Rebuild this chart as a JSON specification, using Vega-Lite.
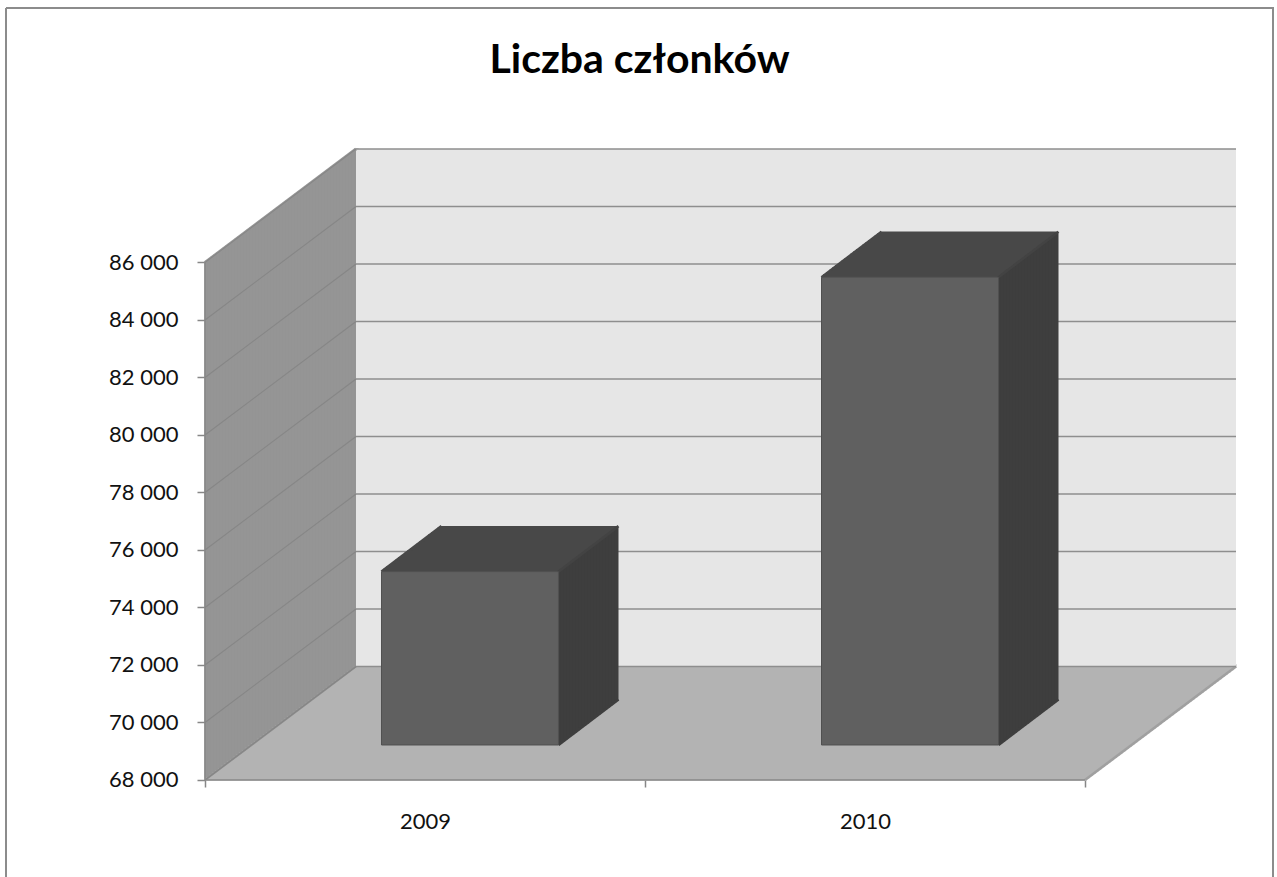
{
"$schema": "https://vega.github.io/schema/vega-lite/v6.json",
"width": 1267, "height": 869,
"autosize": {"type": "none"},
"padding": {"left": 6, "top": 8, "right": 4, "bottom": 0},
"background": "#ffffff",
"title": {"text": "Liczba członków", "font": "Lato", "fontSize": 41, "fontWeight": "bold", "color": "#000000", "anchor": "middle", "baseline": "alphabetic", "offset": -106},
"config": {"view": {"stroke": "#8c8c8c", "strokeWidth": 2, "strokeDash": [2136, 1267, 869, 0]}},
"datasets": {
  "one": [{}],
  "bars": [{"year": 2009, "value": 74030}, {"year": 2010, "value": 84270}],
  "ticks": [{"v": 68000}, {"v": 70000}, {"v": 72000}, {"v": 74000}, {"v": 76000}, {"v": 78000}, {"v": 80000}, {"v": 82000}, {"v": 84000}, {"v": 86000}]
},
"layer": [
  {"data": {"name": "one"},
   "encoding": {"x": {"datum": 2008.5, "type": "quantitative"}, "y": {"datum": 68000, "type": "quantitative"}, "y2": {"datum": 86000}, "color": {"value": "#959595"}, "strokeWidth": {"value": 4.2}},
   "layer": [
    {"mark": {"type": "rule", "xOffset": 1.5, "yOffset": -1.13, "y2Offset": -1.13}},
    {"mark": {"type": "rule", "xOffset": 4.5, "yOffset": -3.38, "y2Offset": -3.38}},
    {"mark": {"type": "rule", "xOffset": 7.5, "yOffset": -5.64, "y2Offset": -5.64}},
    {"mark": {"type": "rule", "xOffset": 10.5, "yOffset": -7.89, "y2Offset": -7.89}},
    {"mark": {"type": "rule", "xOffset": 13.5, "yOffset": -10.15, "y2Offset": -10.15}},
    {"mark": {"type": "rule", "xOffset": 16.5, "yOffset": -12.4, "y2Offset": -12.4}},
    {"mark": {"type": "rule", "xOffset": 19.5, "yOffset": -14.66, "y2Offset": -14.66}},
    {"mark": {"type": "rule", "xOffset": 22.5, "yOffset": -16.91, "y2Offset": -16.91}},
    {"mark": {"type": "rule", "xOffset": 25.5, "yOffset": -19.17, "y2Offset": -19.17}},
    {"mark": {"type": "rule", "xOffset": 28.5, "yOffset": -21.42, "y2Offset": -21.42}},
    {"mark": {"type": "rule", "xOffset": 31.5, "yOffset": -23.68, "y2Offset": -23.68}},
    {"mark": {"type": "rule", "xOffset": 34.5, "yOffset": -25.93, "y2Offset": -25.93}},
    {"mark": {"type": "rule", "xOffset": 37.5, "yOffset": -28.19, "y2Offset": -28.19}},
    {"mark": {"type": "rule", "xOffset": 40.5, "yOffset": -30.44, "y2Offset": -30.44}},
    {"mark": {"type": "rule", "xOffset": 43.5, "yOffset": -32.7, "y2Offset": -32.7}},
    {"mark": {"type": "rule", "xOffset": 46.5, "yOffset": -34.95, "y2Offset": -34.95}},
    {"mark": {"type": "rule", "xOffset": 49.5, "yOffset": -37.21, "y2Offset": -37.21}},
    {"mark": {"type": "rule", "xOffset": 52.5, "yOffset": -39.46, "y2Offset": -39.46}},
    {"mark": {"type": "rule", "xOffset": 55.5, "yOffset": -41.72, "y2Offset": -41.72}},
    {"mark": {"type": "rule", "xOffset": 58.5, "yOffset": -43.97, "y2Offset": -43.97}},
    {"mark": {"type": "rule", "xOffset": 61.5, "yOffset": -46.23, "y2Offset": -46.23}},
    {"mark": {"type": "rule", "xOffset": 64.5, "yOffset": -48.48, "y2Offset": -48.48}},
    {"mark": {"type": "rule", "xOffset": 67.5, "yOffset": -50.74, "y2Offset": -50.74}},
    {"mark": {"type": "rule", "xOffset": 70.5, "yOffset": -52.99, "y2Offset": -52.99}},
    {"mark": {"type": "rule", "xOffset": 73.5, "yOffset": -55.25, "y2Offset": -55.25}},
    {"mark": {"type": "rule", "xOffset": 76.5, "yOffset": -57.5, "y2Offset": -57.5}},
    {"mark": {"type": "rule", "xOffset": 79.5, "yOffset": -59.76, "y2Offset": -59.76}},
    {"mark": {"type": "rule", "xOffset": 82.5, "yOffset": -62.01, "y2Offset": -62.01}},
    {"mark": {"type": "rule", "xOffset": 85.5, "yOffset": -64.27, "y2Offset": -64.27}},
    {"mark": {"type": "rule", "xOffset": 88.5, "yOffset": -66.52, "y2Offset": -66.52}},
    {"mark": {"type": "rule", "xOffset": 91.5, "yOffset": -68.78, "y2Offset": -68.78}},
    {"mark": {"type": "rule", "xOffset": 94.5, "yOffset": -71.03, "y2Offset": -71.03}},
    {"mark": {"type": "rule", "xOffset": 97.5, "yOffset": -73.29, "y2Offset": -73.29}},
    {"mark": {"type": "rule", "xOffset": 100.5, "yOffset": -75.54, "y2Offset": -75.54}},
    {"mark": {"type": "rule", "xOffset": 103.5, "yOffset": -77.8, "y2Offset": -77.8}},
    {"mark": {"type": "rule", "xOffset": 106.5, "yOffset": -80.05, "y2Offset": -80.05}},
    {"mark": {"type": "rule", "xOffset": 109.5, "yOffset": -82.31, "y2Offset": -82.31}},
    {"mark": {"type": "rule", "xOffset": 112.5, "yOffset": -84.56, "y2Offset": -84.56}},
    {"mark": {"type": "rule", "xOffset": 115.5, "yOffset": -86.82, "y2Offset": -86.82}},
    {"mark": {"type": "rule", "xOffset": 118.5, "yOffset": -89.07, "y2Offset": -89.07}},
    {"mark": {"type": "rule", "xOffset": 121.5, "yOffset": -91.33, "y2Offset": -91.33}},
    {"mark": {"type": "rule", "xOffset": 124.5, "yOffset": -93.58, "y2Offset": -93.58}},
    {"mark": {"type": "rule", "xOffset": 127.5, "yOffset": -95.84, "y2Offset": -95.84}},
    {"mark": {"type": "rule", "xOffset": 130.5, "yOffset": -98.09, "y2Offset": -98.09}},
    {"mark": {"type": "rule", "xOffset": 133.5, "yOffset": -100.35, "y2Offset": -100.35}},
    {"mark": {"type": "rule", "xOffset": 136.5, "yOffset": -102.6, "y2Offset": -102.6}},
    {"mark": {"type": "rule", "xOffset": 139.5, "yOffset": -104.86, "y2Offset": -104.86}},
    {"mark": {"type": "rule", "xOffset": 142.5, "yOffset": -107.11, "y2Offset": -107.11}},
    {"mark": {"type": "rule", "xOffset": 145.5, "yOffset": -109.37, "y2Offset": -109.37}},
    {"mark": {"type": "rule", "xOffset": 148.5, "yOffset": -111.62, "y2Offset": -111.62}},
    {"mark": {"type": "rule", "xOffset": 151.5, "yOffset": -113.88, "y2Offset": -113.88}}
   ]},
  {"data": {"name": "one"},
   "encoding": {"x": {"datum": 2008.5, "type": "quantitative"}, "x2": {"datum": 2010.5}, "y": {"datum": 68000, "type": "quantitative"}, "color": {"value": "#b3b3b3"}, "strokeWidth": {"value": 3.5}},
   "layer": [
    {"mark": {"type": "rule", "xOffset": 1.5, "x2Offset": 1.5, "yOffset": -1.13}},
    {"mark": {"type": "rule", "xOffset": 4.5, "x2Offset": 4.5, "yOffset": -3.38}},
    {"mark": {"type": "rule", "xOffset": 7.5, "x2Offset": 7.5, "yOffset": -5.64}},
    {"mark": {"type": "rule", "xOffset": 10.5, "x2Offset": 10.5, "yOffset": -7.89}},
    {"mark": {"type": "rule", "xOffset": 13.5, "x2Offset": 13.5, "yOffset": -10.15}},
    {"mark": {"type": "rule", "xOffset": 16.5, "x2Offset": 16.5, "yOffset": -12.4}},
    {"mark": {"type": "rule", "xOffset": 19.5, "x2Offset": 19.5, "yOffset": -14.66}},
    {"mark": {"type": "rule", "xOffset": 22.5, "x2Offset": 22.5, "yOffset": -16.91}},
    {"mark": {"type": "rule", "xOffset": 25.5, "x2Offset": 25.5, "yOffset": -19.17}},
    {"mark": {"type": "rule", "xOffset": 28.5, "x2Offset": 28.5, "yOffset": -21.42}},
    {"mark": {"type": "rule", "xOffset": 31.5, "x2Offset": 31.5, "yOffset": -23.68}},
    {"mark": {"type": "rule", "xOffset": 34.5, "x2Offset": 34.5, "yOffset": -25.93}},
    {"mark": {"type": "rule", "xOffset": 37.5, "x2Offset": 37.5, "yOffset": -28.19}},
    {"mark": {"type": "rule", "xOffset": 40.5, "x2Offset": 40.5, "yOffset": -30.44}},
    {"mark": {"type": "rule", "xOffset": 43.5, "x2Offset": 43.5, "yOffset": -32.7}},
    {"mark": {"type": "rule", "xOffset": 46.5, "x2Offset": 46.5, "yOffset": -34.95}},
    {"mark": {"type": "rule", "xOffset": 49.5, "x2Offset": 49.5, "yOffset": -37.21}},
    {"mark": {"type": "rule", "xOffset": 52.5, "x2Offset": 52.5, "yOffset": -39.46}},
    {"mark": {"type": "rule", "xOffset": 55.5, "x2Offset": 55.5, "yOffset": -41.72}},
    {"mark": {"type": "rule", "xOffset": 58.5, "x2Offset": 58.5, "yOffset": -43.97}},
    {"mark": {"type": "rule", "xOffset": 61.5, "x2Offset": 61.5, "yOffset": -46.23}},
    {"mark": {"type": "rule", "xOffset": 64.5, "x2Offset": 64.5, "yOffset": -48.48}},
    {"mark": {"type": "rule", "xOffset": 67.5, "x2Offset": 67.5, "yOffset": -50.74}},
    {"mark": {"type": "rule", "xOffset": 70.5, "x2Offset": 70.5, "yOffset": -52.99}},
    {"mark": {"type": "rule", "xOffset": 73.5, "x2Offset": 73.5, "yOffset": -55.25}},
    {"mark": {"type": "rule", "xOffset": 76.5, "x2Offset": 76.5, "yOffset": -57.5}},
    {"mark": {"type": "rule", "xOffset": 79.5, "x2Offset": 79.5, "yOffset": -59.76}},
    {"mark": {"type": "rule", "xOffset": 82.5, "x2Offset": 82.5, "yOffset": -62.01}},
    {"mark": {"type": "rule", "xOffset": 85.5, "x2Offset": 85.5, "yOffset": -64.27}},
    {"mark": {"type": "rule", "xOffset": 88.5, "x2Offset": 88.5, "yOffset": -66.52}},
    {"mark": {"type": "rule", "xOffset": 91.5, "x2Offset": 91.5, "yOffset": -68.78}},
    {"mark": {"type": "rule", "xOffset": 94.5, "x2Offset": 94.5, "yOffset": -71.03}},
    {"mark": {"type": "rule", "xOffset": 97.5, "x2Offset": 97.5, "yOffset": -73.29}},
    {"mark": {"type": "rule", "xOffset": 100.5, "x2Offset": 100.5, "yOffset": -75.54}},
    {"mark": {"type": "rule", "xOffset": 103.5, "x2Offset": 103.5, "yOffset": -77.8}},
    {"mark": {"type": "rule", "xOffset": 106.5, "x2Offset": 106.5, "yOffset": -80.05}},
    {"mark": {"type": "rule", "xOffset": 109.5, "x2Offset": 109.5, "yOffset": -82.31}},
    {"mark": {"type": "rule", "xOffset": 112.5, "x2Offset": 112.5, "yOffset": -84.56}},
    {"mark": {"type": "rule", "xOffset": 115.5, "x2Offset": 115.5, "yOffset": -86.82}},
    {"mark": {"type": "rule", "xOffset": 118.5, "x2Offset": 118.5, "yOffset": -89.07}},
    {"mark": {"type": "rule", "xOffset": 121.5, "x2Offset": 121.5, "yOffset": -91.33}},
    {"mark": {"type": "rule", "xOffset": 124.5, "x2Offset": 124.5, "yOffset": -93.58}},
    {"mark": {"type": "rule", "xOffset": 127.5, "x2Offset": 127.5, "yOffset": -95.84}},
    {"mark": {"type": "rule", "xOffset": 130.5, "x2Offset": 130.5, "yOffset": -98.09}},
    {"mark": {"type": "rule", "xOffset": 133.5, "x2Offset": 133.5, "yOffset": -100.35}},
    {"mark": {"type": "rule", "xOffset": 136.5, "x2Offset": 136.5, "yOffset": -102.6}},
    {"mark": {"type": "rule", "xOffset": 139.5, "x2Offset": 139.5, "yOffset": -104.86}},
    {"mark": {"type": "rule", "xOffset": 142.5, "x2Offset": 142.5, "yOffset": -107.11}},
    {"mark": {"type": "rule", "xOffset": 145.5, "x2Offset": 145.5, "yOffset": -109.37}},
    {"mark": {"type": "rule", "xOffset": 148.5, "x2Offset": 148.5, "yOffset": -111.62}},
    {"mark": {"type": "rule", "xOffset": 151.5, "x2Offset": 151.5, "yOffset": -113.88}}
   ]},
  {"data": {"name": "one"},
   "mark": {"type": "rect", "xOffset": 151, "x2Offset": 151, "yOffset": -113.5, "y2Offset": -113.5, "color": "#e6e6e6"},
   "encoding": {"x": {"datum": 2008.5, "type": "quantitative"}, "x2": {"datum": 2010.5}, "y": {"datum": 68000, "type": "quantitative"}, "y2": {"datum": 86000}}},
  {"data": {"name": "one"},
   "mark": {"type": "rule", "x2Offset": 151, "y2Offset": -113.5, "color": "#959595", "strokeWidth": 3},
   "encoding": {"x": {"datum": 2008.5, "type": "quantitative"}, "x2": {"datum": 2008.5}, "y": {"datum": 86000, "type": "quantitative"}, "y2": {"datum": 86000}}},
  {"data": {"name": "one"},
   "mark": {"type": "rule", "x2Offset": 151, "y2Offset": -113.5, "color": "#a0a0a0", "strokeWidth": 2.6},
   "encoding": {"x": {"datum": 2010.5, "type": "quantitative"}, "x2": {"datum": 2010.5}, "y": {"datum": 68000, "type": "quantitative"}, "y2": {"datum": 68000}}},
  {"data": {"name": "one"},
   "mark": {"type": "rule", "x2Offset": 151, "y2Offset": -113.5, "color": "#8f8f8f", "strokeWidth": 2},
   "encoding": {"x": {"datum": 2008.5, "type": "quantitative"}, "x2": {"datum": 2008.5}, "y": {"datum": 68000, "type": "quantitative"}, "y2": {"datum": 68000}}},
  {"data": {"name": "ticks"},
   "mark": {"type": "rule", "x2Offset": 151, "y2Offset": -113.5, "color": "#868686", "strokeWidth": 1.1},
   "encoding": {"x": {"datum": 2008.5, "type": "quantitative"}, "x2": {"datum": 2008.5}, "y": {"field": "v", "type": "quantitative"}, "y2": {"field": "v"}}},
  {"data": {"name": "ticks"},
   "mark": {"type": "rule", "xOffset": 151, "x2Offset": 151, "yOffset": -113.5, "color": "#8e8e8e", "strokeWidth": 1.5},
   "encoding": {"x": {"datum": 2008.5, "type": "quantitative"}, "x2": {"datum": 2010.5}, "y": {"field": "v", "type": "quantitative"}}},
  {"data": {"name": "bars"},
   "encoding": {"x": {"field": "year", "type": "quantitative"}, "x2": {"field": "year"}, "y": {"field": "value", "type": "quantitative"}, "color": {"value": "#484848"}, "strokeWidth": {"value": 3.5}},
   "layer": [
    {"mark": {"type": "rule", "xOffset": -42, "x2Offset": 135, "yOffset": -36.14}},
    {"mark": {"type": "rule", "xOffset": -39, "x2Offset": 138, "yOffset": -38.41}},
    {"mark": {"type": "rule", "xOffset": -36, "x2Offset": 141, "yOffset": -40.69}},
    {"mark": {"type": "rule", "xOffset": -33, "x2Offset": 144, "yOffset": -42.96}},
    {"mark": {"type": "rule", "xOffset": -30, "x2Offset": 147, "yOffset": -45.24}},
    {"mark": {"type": "rule", "xOffset": -27, "x2Offset": 150, "yOffset": -47.51}},
    {"mark": {"type": "rule", "xOffset": -24, "x2Offset": 153, "yOffset": -49.79}},
    {"mark": {"type": "rule", "xOffset": -21, "x2Offset": 156, "yOffset": -52.06}},
    {"mark": {"type": "rule", "xOffset": -18, "x2Offset": 159, "yOffset": -54.34}},
    {"mark": {"type": "rule", "xOffset": -15, "x2Offset": 162, "yOffset": -56.61}},
    {"mark": {"type": "rule", "xOffset": -12, "x2Offset": 165, "yOffset": -58.89}},
    {"mark": {"type": "rule", "xOffset": -9, "x2Offset": 168, "yOffset": -61.16}},
    {"mark": {"type": "rule", "xOffset": -6, "x2Offset": 171, "yOffset": -63.44}},
    {"mark": {"type": "rule", "xOffset": -3, "x2Offset": 174, "yOffset": -65.71}},
    {"mark": {"type": "rule", "xOffset": 0, "x2Offset": 177, "yOffset": -67.99}},
    {"mark": {"type": "rule", "xOffset": 3, "x2Offset": 180, "yOffset": -70.26}},
    {"mark": {"type": "rule", "xOffset": 6, "x2Offset": 183, "yOffset": -72.54}},
    {"mark": {"type": "rule", "xOffset": 9, "x2Offset": 186, "yOffset": -74.81}},
    {"mark": {"type": "rule", "xOffset": 12, "x2Offset": 189, "yOffset": -77.09}},
    {"mark": {"type": "rule", "xOffset": 15, "x2Offset": 192, "yOffset": -78.9}}
   ]},
  {"data": {"name": "bars"},
   "encoding": {"x": {"field": "year", "type": "quantitative"}, "y": {"field": "value", "type": "quantitative"}, "y2": {"datum": 68000}, "color": {"value": "#3e3e3e"}, "strokeWidth": {"value": 4.2}},
   "layer": [
    {"mark": {"type": "rule", "xOffset": 135, "yOffset": -36.14, "y2Offset": -36.14}},
    {"mark": {"type": "rule", "xOffset": 138, "yOffset": -38.41, "y2Offset": -38.41}},
    {"mark": {"type": "rule", "xOffset": 141, "yOffset": -40.69, "y2Offset": -40.69}},
    {"mark": {"type": "rule", "xOffset": 144, "yOffset": -42.96, "y2Offset": -42.96}},
    {"mark": {"type": "rule", "xOffset": 147, "yOffset": -45.24, "y2Offset": -45.24}},
    {"mark": {"type": "rule", "xOffset": 150, "yOffset": -47.51, "y2Offset": -47.51}},
    {"mark": {"type": "rule", "xOffset": 153, "yOffset": -49.79, "y2Offset": -49.79}},
    {"mark": {"type": "rule", "xOffset": 156, "yOffset": -52.06, "y2Offset": -52.06}},
    {"mark": {"type": "rule", "xOffset": 159, "yOffset": -54.34, "y2Offset": -54.34}},
    {"mark": {"type": "rule", "xOffset": 162, "yOffset": -56.61, "y2Offset": -56.61}},
    {"mark": {"type": "rule", "xOffset": 165, "yOffset": -58.89, "y2Offset": -58.89}},
    {"mark": {"type": "rule", "xOffset": 168, "yOffset": -61.16, "y2Offset": -61.16}},
    {"mark": {"type": "rule", "xOffset": 171, "yOffset": -63.44, "y2Offset": -63.44}},
    {"mark": {"type": "rule", "xOffset": 174, "yOffset": -65.71, "y2Offset": -65.71}},
    {"mark": {"type": "rule", "xOffset": 177, "yOffset": -67.99, "y2Offset": -67.99}},
    {"mark": {"type": "rule", "xOffset": 180, "yOffset": -70.26, "y2Offset": -70.26}},
    {"mark": {"type": "rule", "xOffset": 183, "yOffset": -72.54, "y2Offset": -72.54}},
    {"mark": {"type": "rule", "xOffset": 186, "yOffset": -74.81, "y2Offset": -74.81}},
    {"mark": {"type": "rule", "xOffset": 189, "yOffset": -77.09, "y2Offset": -77.09}},
    {"mark": {"type": "rule", "xOffset": 191.4, "yOffset": -78.9, "y2Offset": -78.9}}
   ]},
  {"data": {"name": "bars"},
   "mark": {"type": "rule", "xOffset": -43.5, "yOffset": -35, "x2Offset": 16.5, "y2Offset": -80.5, "color": "#484848", "strokeWidth": 2.6},
   "encoding": {"x": {"field": "year", "type": "quantitative"}, "x2": {"field": "year"}, "y": {"field": "value", "type": "quantitative"}, "y2": {"field": "value"}}},
  {"data": {"name": "bars"},
   "mark": {"type": "rule", "xOffset": 133.5, "yOffset": -35, "x2Offset": 193.5, "y2Offset": -80.5, "color": "#434343", "strokeWidth": 2.6},
   "encoding": {"x": {"field": "year", "type": "quantitative"}, "x2": {"field": "year"}, "y": {"field": "value", "type": "quantitative"}, "y2": {"field": "value"}}},
  {"data": {"name": "bars"},
   "mark": {"type": "rule", "xOffset": 133.5, "yOffset": -35, "x2Offset": 193.5, "y2Offset": -80.5, "color": "#3e3e3e", "strokeWidth": 2.6},
   "encoding": {"x": {"field": "year", "type": "quantitative"}, "x2": {"field": "year"}, "y": {"datum": 68000, "type": "quantitative"}, "y2": {"datum": 68000}}},
  {"data": {"name": "bars"},
   "mark": {"type": "rect", "xOffset": -43.5, "x2Offset": 133.5, "yOffset": -35, "y2Offset": -35, "color": "#606060", "stroke": "#505050", "strokeWidth": 1},
   "encoding": {
     "x": {"field": "year", "type": "quantitative",
           "scale": {"domain": [2008.04773, 2010.92727], "nice": false, "zero": false},
           "axis": {"title": null, "orient": "bottom", "offset": -97, "domain": false, "grid": false,
                    "values": [2008.5, 2009, 2009.5, 2010, 2010.5],
                    "labelExpr": "datum.value % 1 == 0 ? format(datum.value, 'd') : ''",
                    "tickSize": 7, "tickColor": "#878787", "tickWidth": 1.5,
                    "tickOpacity": {"condition": {"test": "datum.value % 1 == 0", "value": 0}, "value": 1},
                    "labelFont": "Lato", "labelFontSize": 22, "labelColor": "#111111", "labelPadding": 24, "labelOverlap": false, "labelFlush": false}},
     "x2": {"field": "year"},
     "y": {"field": "value", "type": "quantitative",
           "scale": {"domain": [64626, 94852], "nice": false, "zero": false},
           "axis": {"title": null, "orient": "left", "offset": -199, "domain": false, "grid": false,
                    "values": [68000, 70000, 72000, 74000, 76000, 78000, 80000, 82000, 84000, 86000],
                    "labelExpr": "replace(format(datum.value, ','), ',', ' ')",
                    "tickSize": 8, "tickColor": "#878787", "tickWidth": 1.5,
                    "labelFont": "Lato", "labelFontSize": 22, "labelColor": "#111111", "labelPadding": 19, "labelOverlap": false}},
     "y2": {"datum": 68000}}},
  {"data": {"name": "one"},
   "mark": {"type": "rule", "color": "#878787", "strokeWidth": 1.5},
   "encoding": {"x": {"datum": 2008.5, "type": "quantitative"}, "y": {"datum": 68000, "type": "quantitative"}, "y2": {"datum": 86000}}},
  {"data": {"name": "one"},
   "mark": {"type": "rule", "color": "#878787", "strokeWidth": 1.5},
   "encoding": {"x": {"datum": 2008.5, "type": "quantitative"}, "x2": {"datum": 2010.5}, "y": {"datum": 68000, "type": "quantitative"}}}
]
}
